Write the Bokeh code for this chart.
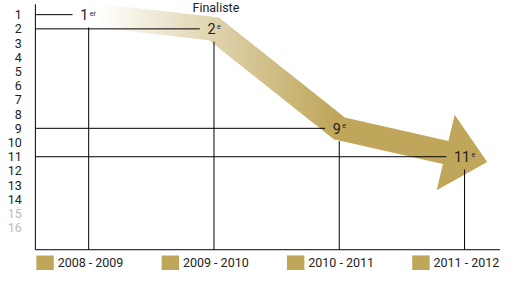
import numpy as np
from bokeh.plotting import figure
from bokeh.models import Range1d, ColumnDataSource
from bokeh.core.properties import value
from bokeh.embed import file_html
from bokeh.resources import INLINE

# ---------------- data ----------------
seasons = ["2008 - 2009", "2009 - 2010", "2010 - 2011", "2011 - 2012"]
ranks = [1, 2, 9, 11]
rank_labels = ["1", "2", "9", "11"]
rank_suffix = ["er", "e", "e", "e"]
notes = ["", "Finaliste", "", ""]
tick_values = list(range(1, 17))
tick_labels = [str(v) for v in tick_values]
faded_ticks = [15, 16]

# ---------------- layout helpers ----------------
RW, RH = 516, 286               # design space (reference pixels)
W, H = 500, 270                 # actual figure size (fits window with 8px margin)
FS = 0.96                       # font scale
X0_PX, DX_PX = 91.0, 129.3      # pixel of first season, spacing between seasons
Y1_PX, DY_PX = 15.0, 15.05      # pixel of rank 1, spacing between ranks
GOLD = (191, 166, 90)
FONT = value("Roboto")
TXT = "#222222"


def fs(px):
    return "%.2fpx" % (px * FS)


def xpx(x):
    return X0_PX + x * DX_PX


def ypx(r):
    return Y1_PX + (r - 1) * DY_PX


def xd(px):
    return (px - X0_PX) / DX_PX


def yd(py):
    return 1 + (py - Y1_PX) / DY_PX


p = figure(width=W, height=H, x_range=Range1d(xd(0), xd(RW)), y_range=Range1d(yd(RH), yd(0)),
           min_border=0, toolbar_location=None, tools="", output_backend="svg",
           x_axis_location=None, y_axis_location=None)
p.outline_line_color = None
p.xgrid.visible = False
p.ygrid.visible = False
p.background_fill_color = "white"
p.border_fill_color = "white"

# ---------------- arrow polygon (pixel space from data) ----------------
C = [np.array([xpx(i), ypx(r)]) for i, r in enumerate(ranks)]
hw, HW = 12.5, 41.0


def unit(v):
    return v / np.hypot(*v)


def up(d):
    return np.array([d[1], -d[0]])


d_last = unit(C[3] - C[2])
tip = C[3] + 24 * d_last
base = tip - 44 * d_last
shaft = [C[0], C[1], C[2], base]
dirs = [unit(shaft[k + 1] - shaft[k]) for k in range(len(shaft) - 1)]
norms = [up(d) for d in dirs]
offs = [hw * norms[0]]
for k in range(1, len(shaft) - 1):
    na, nb = norms[k - 1], norms[k]
    offs.append((na + nb) * hw / (1 + na @ nb))
offs.append(hw * norms[-1])
n2 = norms[-1]
upper = [shaft[k] + offs[k] for k in range(len(shaft))]
lower = [shaft[k] - offs[k] for k in range(len(shaft))]
poly = upper + [base + HW * n2, tip, base - HW * n2] + lower[::-1]
poly = [tuple(pt) for pt in poly]


def clip(pts, a, b):
    def edge(pts, inside, xc):
        out = []
        for i in range(len(pts)):
            cur, prev = pts[i], pts[i - 1]
            def inter(p_, q_):
                t = (xc - p_[0]) / (q_[0] - p_[0])
                return (xc, p_[1] + t * (q_[1] - p_[1]))
            if inside(cur):
                if not inside(prev):
                    out.append(inter(prev, cur))
                out.append(cur)
            elif inside(prev):
                out.append(inter(prev, cur))
        return out
    r = edge(pts, lambda q: q[0] >= a, a)
    if r:
        r = edge(r, lambda q: q[0] <= b, b)
    return r


FADE0, FADE1 = 100.0, 345.0
xmin = min(q[0] for q in poly)
xmax = max(q[0] for q in poly)
xs, ys, cols = [], [], []
edges = list(np.arange(xmin, FADE1, 2.0)) + [FADE1]
for k in range(len(edges) - 1):
    a, b = edges[k], edges[k + 1]
    piece = clip(poly, a, b + 1.0)
    if len(piece) < 3:
        continue
    t = min(max(((a + b) / 2 - FADE0) / (FADE1 - FADE0), 0), 1)
    c = tuple(int(round(255 + t * (g - 255))) for g in GOLD)
    xs.append([xd(q[0]) for q in piece])
    ys.append([yd(q[1]) for q in piece])
    cols.append("#%02x%02x%02x" % c)
piece = clip(poly, FADE1, xmax + 1)
xs.append([xd(q[0]) for q in piece])
ys.append([yd(q[1]) for q in piece])
cols.append("#%02x%02x%02x" % GOLD)
p.patches(xs="xs", ys="ys", fill_color="c", line_color=None,
          source=ColumnDataSource(dict(xs=xs, ys=ys, c=cols)))

# ---------------- axes ----------------
x_left = xd(36)
y_top, y_bot = yd(4), yd(264)
p.segment(x0=[x_left, x_left], y0=[y_top, y_bot], x1=[x_left, xd(RW + 5)], y1=[y_bot, y_bot],
          line_color="black", line_width=1)

# ---------------- guide lines ----------------
main_w = [8.3 * len(s) for s in rank_labels]
sup_w = [4.0 * len(s) for s in rank_suffix]
tot_w = [m + 1 + s for m, s in zip(main_w, sup_w)]
idx = list(range(len(ranks)))
h_end = [i - (t / 2 + 8) / DX_PX for i, t in zip(idx, tot_w)]
p.segment(x0=[x_left] * len(ranks), y0=ranks, x1=h_end, y1=ranks, line_color="black", line_width=1)
v_start = [r + 0.9 for r in ranks]
p.segment(x0=idx, y0=v_start, x1=idx, y1=[y_bot] * len(ranks), line_color="black", line_width=1)

# ---------------- rank labels ----------------
main_x = [i + (-t / 2 + m) / DX_PX for i, t, m in zip(idx, tot_w, main_w)]
sup_x = [mx + 1.5 / DX_PX for mx in main_x]
p.text(x=main_x, y=ranks, text=rank_labels, text_align="right", text_baseline="middle",
       text_font=FONT, text_font_size=fs(15), text_color=TXT)
p.text(x=sup_x, y=[r - 5.5 / DY_PX for r in ranks], text=rank_suffix, text_align="left",
       text_baseline="top", text_font=FONT, text_font_size=fs(7.5), text_color=TXT)

# note above
p.text(x=[i + 2 / DX_PX for i in idx], y=[yd(7.8)] * len(idx), text=notes, text_align="center",
       text_baseline="middle", text_font=FONT, text_font_size=fs(13), text_color=TXT)

# ---------------- tick labels ----------------
tick_cols = ["#bbbbbb" if v in faded_ticks else TXT for v in tick_values]
p.text(x=[xd(22)] * len(tick_values), y=tick_values, text=tick_labels, text_align="right",
       text_baseline="middle", text_font=FONT, text_font_size=fs(13), text_color=tick_cols)

# ---------------- legend ----------------
p.quad(left=[i - 54 / DX_PX for i in idx], right=[i - 36 / DX_PX for i in idx],
       top=[yd(270)] * len(idx), bottom=[yd(287)] * len(idx),
       fill_color="#%02x%02x%02x" % GOLD, line_color=None)
p.text(x=[i - 32 / DX_PX for i in idx], y=[yd(277.5)] * len(idx), text=seasons, text_align="left",
       text_baseline="middle", text_font=FONT, text_font_size=fs(13), text_color=TXT)

open("out.html", "w").write(file_html(p, INLINE))
